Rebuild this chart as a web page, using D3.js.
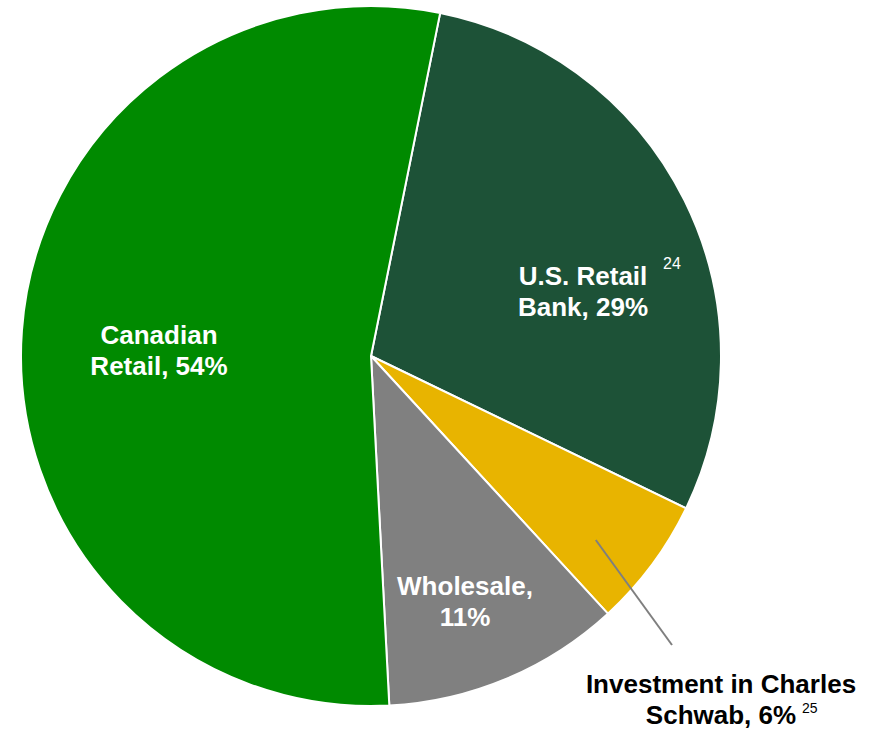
<!DOCTYPE html>
<html>
<head>
<meta charset="utf-8">
<script src="https://cdn.jsdelivr.net/npm/d3@7"></script>
<style>
  html, body { margin: 0; padding: 0; background: #fff; }
  text { font-family: "Liberation Sans", Arial, sans-serif; font-weight: bold; }
</style>
</head>
<body>
<svg id="chart" width="879" height="730"></svg>
<script>
// Segment share of earnings, drawn clockwise
const categories = ["U.S. Retail Bank", "Investment in Charles Schwab", "Wholesale", "Canadian Retail"];
const shares = [29, 6, 11, 54];
const colors = ["#1d5237", "#e8b400", "#808080", "#008a00"];
const footnotes = ["24", "25", "", ""];

const width = 879, height = 730;
const cx = 371, cy = 356, radius = 350;
const startOffset = 11.4 * Math.PI / 180;

const svg = d3.select("#chart");
const g = svg.append("g").attr("transform", `translate(${cx},${cy})`);

const data = categories.map((c, i) => ({ name: c, value: shares[i], color: colors[i], note: footnotes[i] }));

const pie = d3.pie()
  .value(d => d.value)
  .sort(null)
  .startAngle(startOffset)
  .endAngle(startOffset + 2 * Math.PI);

const arc = d3.arc().innerRadius(0).outerRadius(radius);
const arcs = pie(data);

g.selectAll("path.slice")
  .data(arcs)
  .join("path")
  .attr("class", "slice")
  .attr("d", arc)
  .attr("fill", d => d.data.color)
  .attr("stroke", "#fff")
  .attr("stroke-width", 2);

// Label placement per slice (relative to pie centre)
const labelSpec = {
  "U.S. Retail Bank": { lines: ["U.S. Retail", "Bank, " + shares[0] + "%"], x: 212, y: -71, fill: "#fff" },
  "Wholesale": { lines: ["Wholesale,", shares[2] + "%"], x: 94, y: 239, fill: "#fff" },
  "Canadian Retail": { lines: ["Canadian", "Retail, " + shares[3] + "%"], x: -212, y: -12, fill: "#fff" },
  "Investment in Charles Schwab": { lines: ["Investment in Charles", "Schwab, " + shares[1] + "%"], x: 350, y: 337, fill: "#000" }
};

const lineH = 30.5;
arcs.forEach(a => {
  const s = labelSpec[a.data.name];
  const t = g.append("text")
    .attr("x", s.x).attr("y", s.y)
    .attr("text-anchor", "middle")
    .attr("fill", s.fill)
    .style("font-size", "26px");
  s.lines.forEach((ln, i) => {
    t.append("tspan").attr("x", s.x).attr("dy", i === 0 ? 0 : lineH).text(ln);
  });
});

// Leader line for the small Schwab slice
const schwab = arcs[1];
const mid = (schwab.startAngle + schwab.endAngle) / 2 + 2.7 * Math.PI / 180;
const r0 = radius * 0.83;
g.append("line")
  .attr("x1", Math.sin(mid) * r0).attr("y1", -Math.cos(mid) * r0)
  .attr("x2", 301).attr("y2", 289)
  .attr("stroke", "#7f7f7f").attr("stroke-width", 2);

// Footnote superscripts
g.append("text").attr("x", 292).attr("y", -87).attr("fill", "#fff")
  .style("font-size", "16px").style("font-weight", "normal").text(footnotes[0]);
g.append("text").attr("x", 431).attr("y", 357).attr("fill", "#000")
  .style("font-size", "14px").style("font-weight", "normal").text(footnotes[1]);
</script>
</body>
</html>
